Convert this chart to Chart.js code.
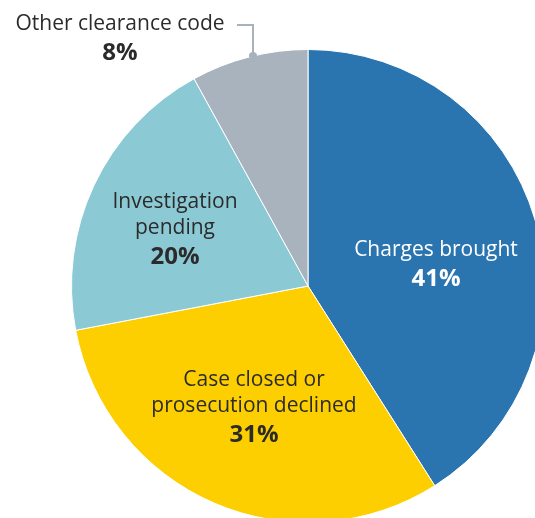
<!DOCTYPE html>
<html>
<head>
<meta charset="utf-8">
<script src="https://cdn.jsdelivr.net/npm/chart.js@4"></script>
<style>
    html, body { margin: 0; padding: 0; background: #fff; overflow: hidden; }
    body { width: 535px; height: 518px; position: relative; font-family: "Open Sans", sans-serif; }
    #pie-wrap { position: absolute; left: 71px; top: 49px; width: 474px; height: 474px; }
    .lbl { position: absolute; text-align: center; transform: translateX(-50%); white-space: nowrap; line-height: 26px; font-size: 21px; color: #2b2b2b; }
    .lbl b { font-size: 24px; font-weight: 700; display: block; line-height: 31px; }
    .white { color: #fff; }
    .leader { position: absolute; background: #a8b2bc; }
</style>
</head>
<body>
<div id="pie-wrap"><canvas id="pie-chart"></canvas></div>
<div id="labels"></div>
<div class="leader" style="left:237px; top:24px; width:17px; height:2px;"></div>
<div class="leader" style="left:252px; top:24px; width:2px; height:31px;"></div>
<div class="leader" style="left:249px; top:52px; width:8px; height:5px; border-radius:4px 4px 0 0;"></div>
<script>
// slices, clockwise from 12 o'clock
const categories = ["Charges brought", "Case closed or prosecution declined", "Investigation pending", "Other clearance code"];
const shares = [41, 31, 20, 8];
const sliceColors = ["#2a74b0", "#fdcf00", "#8bcad5", "#a9b3bd"];

// label lines as shown on the chart
const labelLines = [["Charges brought"], ["Case closed or", "prosecution declined"], ["Investigation", "pending"], ["Other clearance code"]];
// label anchor (centre x, top y) and text colour
const labelSpots = [[436, 235, "white"], [254, 365, ""], [175, 187, ""], [120, 9, ""]];

new Chart(document.getElementById("pie-chart").getContext("2d"), {
    type: "pie",
    data: {
        labels: categories,
        datasets: [{
            data: shares,
            backgroundColor: sliceColors,
            borderColor: "#ffffff",
            borderWidth: 1
        }]
    },
    options: {
        responsive: true,
        maintainAspectRatio: false,
        animation: false,
        layout: { padding: 0 },
        plugins: {
            legend: { display: false },
            tooltip: { enabled: false }
        }
    }
});

const labelsBox = document.getElementById("labels");
categories.forEach((cat, i) => {
    let div = document.createElement("div");
    div.className = "lbl " + labelSpots[i][2];
    div.style.left = labelSpots[i][0] + "px";
    div.style.top = labelSpots[i][1] + "px";
    div.innerHTML = labelLines[i].join("<br>") + "<b>" + shares[i] + "%</b>";
    labelsBox.appendChild(div);
});
</script>
</body>
</html>
